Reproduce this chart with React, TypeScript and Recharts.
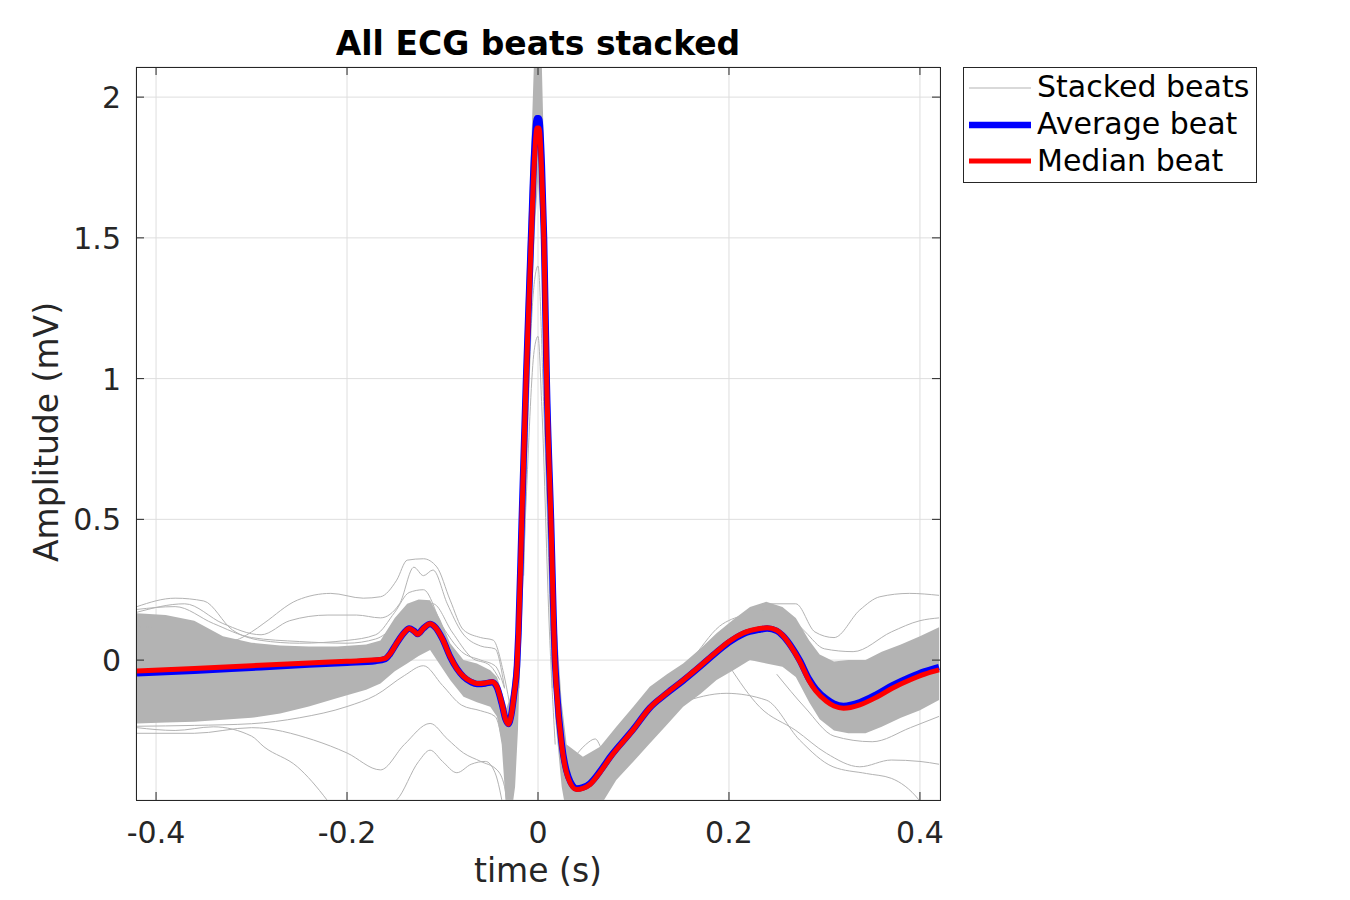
import React from 'react';
import { ComposedChart, Area, Line, XAxis, YAxis, CartesianGrid } from 'recharts';

const FONT = '"DejaVu Sans", Verdana, sans-serif';
const INK = '#262626';
const GRAY = '#b3b3b3';

// plot box in page pixels (MATLAB axes position)
const PL = 136;
const PR = 940;
const PT = 67;
const PB = 800;

const TIME_DOMAIN = [-0.421, 0.421];
const AMP_DOMAIN = [-0.497, 2.107];
const TIME_TICKS = [-0.4, -0.2, 0, 0.2, 0.4];
const AMP_TICKS = [0, 0.5, 1, 1.5, 2];

// average / median beat, sampled on the same time grid (s)
const beatTime = [
  -0.42, -0.36, -0.3, -0.24, -0.2, -0.17, -0.16, -0.155, -0.148, -0.14, -0.135, -0.13, -0.126,
  -0.12, -0.113, -0.108, -0.1, -0.092, -0.085, -0.078, -0.07, -0.064, -0.055, -0.048, -0.043,
  -0.038, -0.034, -0.031, -0.028, -0.025, -0.022, -0.0205, -0.017, -0.0125, -0.0073, -0.004,
  -0.001, 0.001, 0.004, 0.0063, 0.0091, 0.0136, 0.0178, 0.0195, 0.0248, 0.0317, 0.0405, 0.047,
  0.0544, 0.065, 0.0753, 0.1, 0.117, 0.135, 0.152, 0.17, 0.187, 0.2, 0.215, 0.232, 0.24, 0.25,
  0.256, 0.265, 0.274, 0.284, 0.291, 0.302, 0.31, 0.32, 0.337, 0.355, 0.371, 0.39, 0.405, 0.42,
];
const averageBeat = [
  -0.047, -0.038, -0.027, -0.016, -0.009, -0.003, 0.004, 0.022, 0.06, 0.098, 0.112, 0.104, 0.093,
  0.113, 0.128, 0.118, 0.075, 0.012, -0.03, -0.059, -0.078, -0.085, -0.083, -0.079, -0.097,
  -0.154, -0.21, -0.227, -0.195, -0.12, -0.02, 0.095, 0.5, 1.0, 1.5, 1.8,
  1.925, 1.925, 1.76, 1.5, 1.0, 0.5, 0.0, -0.1, -0.296, -0.414, -0.456, -0.452,
  -0.438, -0.395, -0.345, -0.245, -0.17, -0.118, -0.073, -0.022, 0.028, 0.063, 0.093, 0.108, 0.112, 0.104,
  0.088, 0.05, 0.0, -0.068, -0.103, -0.138, -0.155, -0.163, -0.15, -0.121, -0.09, -0.06, -0.04, -0.025,
];
const medianBeat = [
  -0.039, -0.03, -0.02, -0.01, -0.004, 0.001, 0.006, 0.022, 0.06, 0.098, 0.112, 0.103, 0.092,
  0.113, 0.129, 0.118, 0.075, 0.012, -0.03, -0.058, -0.076, -0.083, -0.081, -0.077, -0.095,
  -0.152, -0.21, -0.228, -0.197, -0.122, -0.022, 0.09, 0.49, 0.99, 1.48, 1.76,
  1.89, 1.89, 1.72, 1.48, 0.99, 0.49, -0.01, -0.108, -0.302, -0.42, -0.46, -0.456,
  -0.442, -0.398, -0.348, -0.246, -0.17, -0.117, -0.071, -0.02, 0.03, 0.066, 0.096, 0.112, 0.115, 0.106,
  0.089, 0.048, -0.004, -0.074, -0.11, -0.146, -0.163, -0.171, -0.159, -0.131, -0.1, -0.07, -0.05, -0.035,
];

// envelope of the dense bundle of stacked beats
const bundleTime = [
  -0.42, -0.39, -0.36, -0.33, -0.3, -0.27, -0.24, -0.21, -0.18, -0.165, -0.15, -0.137, -0.125,
  -0.113, -0.102, -0.092, -0.078, -0.064, -0.05, -0.043, -0.038, -0.033, -0.028, -0.024, -0.021,
  -0.017, -0.0125, -0.0073, -0.003, 0, 0.003, 0.0063, 0.0091, 0.0136, 0.0178, 0.0248, 0.03, 0.047,
  0.065, 0.082, 0.1, 0.117, 0.135, 0.152, 0.17, 0.187, 0.205, 0.222, 0.239, 0.256, 0.27, 0.284,
  0.295, 0.31, 0.325, 0.343, 0.36, 0.38, 0.4, 0.42,
];
const bundleLow = [
  -0.225, -0.222, -0.219, -0.212, -0.205, -0.19, -0.165, -0.135, -0.105, -0.083, -0.04, -0.012, 0.015,
  0.036, -0.02, -0.071, -0.13, -0.15, -0.166, -0.2, -0.3, -0.55, -0.55, -0.45, -0.25,
  0.2, 0.7, 1.2, 1.55, 1.7, 1.55, 1.2, 0.7, 0.2, -0.2, -0.45, -0.55, -0.55,
  -0.52, -0.426, -0.36, -0.296, -0.23, -0.166, -0.12, -0.071, -0.035, 0.0, -0.012, -0.024, -0.06, -0.15,
  -0.21, -0.25, -0.26, -0.26, -0.237, -0.205, -0.178, -0.142,
];
const bundleHigh = [
  0.166, 0.16, 0.14, 0.085, 0.062, 0.052, 0.048, 0.048, 0.055, 0.07, 0.15, 0.2, 0.215,
  0.213, 0.142, 0.06, 0.0, -0.012, -0.036, -0.06, -0.11, -0.17, -0.12, 0.02, 0.25,
  0.8, 1.3, 1.8, 2.25, 2.3, 2.25, 1.8, 1.3, 0.8, 0.2, -0.15, -0.3, -0.343,
  -0.308, -0.237, -0.165, -0.095, -0.05, -0.012, 0.04, 0.095, 0.145, 0.189, 0.207, 0.189, 0.15, 0.07,
  0.02, -0.005, 0.0, 0.0, 0.03, 0.055, 0.085, 0.117,
];

// single beats that stray outside the bundle
const strayBeats = [
  {
    time: [-0.42, -0.38, -0.35, -0.32, -0.29, -0.25, -0.2, -0.17, -0.15, -0.135, -0.12, -0.1, -0.08, -0.06, -0.045, -0.035],
    amp: [0.19, 0.22, 0.21, 0.107, 0.07, 0.06, 0.07, 0.09, 0.17, 0.24, 0.25, 0.12, 0.03, 0.0, -0.02, -0.1],
  },
  {
    time: [-0.42, -0.36, -0.32, -0.3, -0.287, -0.252, -0.217, -0.183, -0.165, -0.148, -0.137, -0.12, -0.106, -0.092, -0.078, -0.06, -0.047, -0.036, -0.03],
    amp: [0.12, 0.1, 0.07, 0.1, 0.131, 0.213, 0.237, 0.22, 0.225, 0.284, 0.355, 0.36, 0.331, 0.213, 0.107, 0.08, 0.071, -0.047, -0.15],
  },
  {
    time: [-0.42, -0.37, -0.33, -0.29, -0.26, -0.22, -0.19, -0.165, -0.145, -0.13, -0.12, -0.11, -0.095, -0.08, -0.06, -0.045, -0.035],
    amp: [0.17, 0.2, 0.13, 0.09, 0.14, 0.16, 0.16, 0.15, 0.2, 0.33, 0.3, 0.32, 0.2, 0.1, 0.05, 0.04, -0.1],
  },
  {
    time: [-0.42, -0.38, -0.34, -0.3, -0.25, -0.2, -0.17, -0.15, -0.13, -0.11, -0.09, -0.07, -0.05, -0.04],
    amp: [0.18, 0.19, 0.13, 0.08, 0.066, 0.06, 0.075, 0.12, 0.19, 0.2, 0.1, 0.01, -0.02, -0.07],
  },
  {
    time: [-0.42, -0.38, -0.34, -0.3, -0.287, -0.252, -0.221, -0.2],
    amp: [-0.24, -0.25, -0.237, -0.27, -0.308, -0.379, -0.497, -0.6],
  },
  {
    time: [-0.42, -0.36, -0.3, -0.235, -0.2, -0.165, -0.14, -0.113, -0.095, -0.078, -0.06, -0.043, -0.035, -0.03],
    amp: [-0.26, -0.26, -0.24, -0.284, -0.33, -0.39, -0.3, -0.225, -0.28, -0.33, -0.36, -0.39, -0.45, -0.6],
  },
  {
    time: [-0.42, -0.36, -0.3, -0.25, -0.2, -0.17, -0.14, -0.12, -0.1, -0.08, -0.06, -0.045, -0.035],
    amp: [-0.235, -0.232, -0.226, -0.205, -0.165, -0.125, -0.055, -0.02, -0.09, -0.16, -0.18, -0.2, -0.33],
  },
  {
    time: [-0.18, -0.148, -0.125, -0.113, -0.1, -0.085, -0.07, -0.055, -0.045, -0.035],
    amp: [-0.55, -0.497, -0.36, -0.32, -0.36, -0.4, -0.37, -0.36, -0.4, -0.55],
  },
  {
    time: [-0.02, -0.012, -0.004, 0, 0.004, 0.012, 0.018],
    amp: [-0.1, 0.6, 1.1, 1.15, 0.9, 0.1, -0.3],
  },
  {
    time: [-0.015, -0.005, 0, 0.006, 0.015],
    amp: [0.3, 1.3, 1.4, 0.9, -0.1],
  },
  {
    time: [0.035, 0.05, 0.06, 0.07, 0.1, 0.13, 0.16, 0.19, 0.215, 0.24, 0.26],
    amp: [-0.36, -0.3, -0.28, -0.33, -0.2, -0.1, 0.0, 0.12, 0.16, 0.18, 0.15],
  },
  {
    time: [0.2, 0.24, 0.27, 0.29, 0.31, 0.337, 0.358, 0.389, 0.42],
    amp: [0.1, 0.2, 0.2, 0.1, 0.08, 0.178, 0.225, 0.237, 0.23],
  },
  {
    time: [0.26, 0.28, 0.3, 0.33, 0.37, 0.4, 0.42],
    amp: [0.17, 0.1, 0.04, 0.03, 0.1, 0.14, 0.15],
  },
  {
    time: [0.25, 0.28, 0.31, 0.35, 0.39, 0.42],
    amp: [-0.05, -0.17, -0.27, -0.29, -0.24, -0.2],
  },
  {
    time: [0.15, 0.197, 0.239, 0.274, 0.309, 0.344, 0.37, 0.399, 0.41],
    amp: [-0.15, -0.118, -0.142, -0.284, -0.379, -0.403, -0.42, -0.497, -0.55],
  },
  {
    time: [0.2, 0.232, 0.27, 0.302, 0.337, 0.37, 0.4, 0.42],
    amp: [-0.02, -0.166, -0.25, -0.331, -0.379, -0.355, -0.36, -0.37],
  },
];

const toPoints = (time: number[], amp: number[]) => time.map((t, i) => ({ t, v: amp[i] }));

const averageData = toPoints(beatTime, averageBeat);
const medianData = toPoints(beatTime, medianBeat);
const bundleData = bundleTime.map((t, i) => ({ t, range: [bundleLow[i], bundleHigh[i]] }));

const TimeTick = (props: any) => {
  const { x, payload } = props;
  return (
    <g>
      <line x1={x} x2={x} y1={PB} y2={PB - 8} stroke={INK} />
      <line x1={x} x2={x} y1={PT} y2={PT + 8} stroke={INK} />
      <text x={x} y={843} textAnchor="middle" fontSize={30} fill={INK} fontFamily={FONT}>
        {String(payload.value)}
      </text>
    </g>
  );
};

const AmpTick = (props: any) => {
  const { y, payload } = props;
  return (
    <g>
      <line x1={PL} x2={PL + 8} y1={y} y2={y} stroke={INK} />
      <line x1={PR - 8} x2={PR} y1={y} y2={y} stroke={INK} />
      <text x={121} y={y + 11} textAnchor="end" fontSize={30} fill={INK} fontFamily={FONT}>
        {String(payload.value)}
      </text>
    </g>
  );
};

export default function App() {
  return (
    <div style={{ position: 'absolute', left: 0, top: 0, width: 1350, height: 900, background: '#fff' }}>
      <ComposedChart
        width={1350}
        height={900}
        margin={{ top: PT, right: 1350 - PR, bottom: 0, left: PL - 60 }}
      >
        <CartesianGrid stroke="#dedede" />
        <XAxis
          dataKey="t"
          type="number"
          domain={TIME_DOMAIN}
          ticks={TIME_TICKS}
          allowDataOverflow
          height={100}
          axisLine={false}
          tickLine={false}
          tick={<TimeTick />}
        />
        <YAxis
          type="number"
          domain={AMP_DOMAIN}
          ticks={AMP_TICKS}
          allowDataOverflow
          width={60}
          axisLine={false}
          tickLine={false}
          tick={<AmpTick />}
        />
        <Area
          data={bundleData}
          dataKey="range"
          type="linear"
          stroke="none"
          fill={GRAY}
          fillOpacity={1}
          isAnimationActive={false}
        />
        {strayBeats.map((b, i) => (
          <Line
            key={`stray-${i}`}
            data={toPoints(b.time, b.amp)}
            dataKey="v"
            type="monotone"
            stroke={GRAY}
            strokeWidth={1}
            dot={false}
            isAnimationActive={false}
          />
        ))}
        <Line
          data={averageData}
          dataKey="v"
          type="monotone"
          stroke="#0000ff"
          strokeWidth={6.5}
          dot={false}
          isAnimationActive={false}
        />
        <Line
          data={medianData}
          dataKey="v"
          type="monotone"
          stroke="#ff0000"
          strokeWidth={5}
          dot={false}
          isAnimationActive={false}
        />
      </ComposedChart>

      <svg
        width={1350}
        height={900}
        style={{ position: 'absolute', left: 0, top: 0, pointerEvents: 'none' }}
        fontFamily={FONT}
      >
        <rect x={PL + 0.5} y={PT + 0.5} width={PR - PL} height={PB - PT} fill="none" stroke={INK} />
        <text x={538} y={55} textAnchor="middle" fontSize={33} fontWeight="bold" fill="#000">
          All ECG beats stacked
        </text>
        <text x={538} y={882} textAnchor="middle" fontSize={33} fill={INK}>
          time (s)
        </text>
        <text x={58} y={432} textAnchor="middle" fontSize={33} fill={INK} transform="rotate(-90 58 432)">
          Amplitude (mV)
        </text>

        {/* legend */}
        <rect x={963.5} y={67.5} width={293} height={115} fill="#fff" stroke={INK} />
        <line x1={969} x2={1031} y1={88} y2={88} stroke={GRAY} strokeWidth={1} />
        <line x1={969} x2={1031} y1={125} y2={125} stroke="#0000ff" strokeWidth={6.5} />
        <line x1={969} x2={1031} y1={161} y2={161} stroke="#ff0000" strokeWidth={5} />
        <text x={1037} y={97} fontSize={30} fill="#000">Stacked beats</text>
        <text x={1037} y={134} fontSize={30} fill="#000">Average beat</text>
        <text x={1037} y={171} fontSize={30} fill="#000">Median beat</text>
      </svg>
    </div>
  );
}
